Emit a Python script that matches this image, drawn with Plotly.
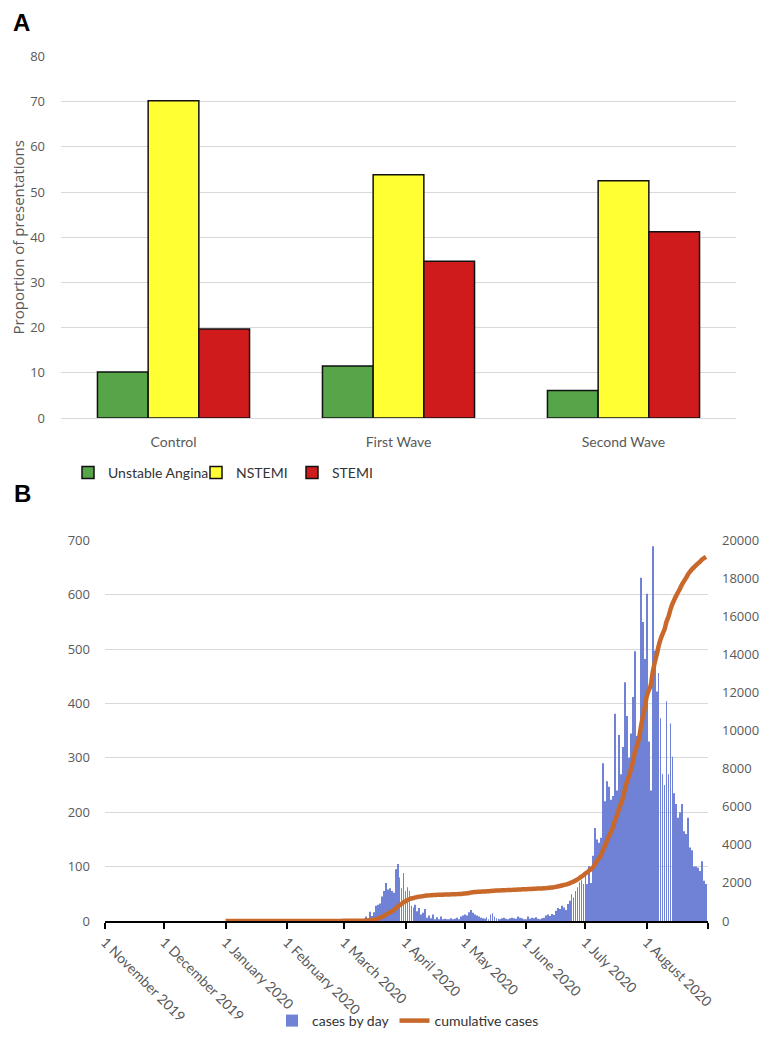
import numpy as np
import pandas as pd
import plotly.graph_objects as go

# ---------------- Panel A data ----------------
categories = ["Control", "First Wave", "Second Wave"]
unstable_angina = [10.2, 11.5, 6.1]
nstemi = [70.2, 53.8, 52.5]
stemi = [19.7, 34.7, 41.2]

# ---------------- Panel B data (daily cases, 2020) ----------------
jan_cases = [0]*24 + [1, 0, 0, 0, 1, 1, 0]
feb_cases = [1] + [0]*27 + [1]
mar_cases = [1, 0, 1, 1, 0, 1, 1, 0, 1, 1,
             3, 8, 5, 17, 9, 16,
             28, 30, 32, 45, 55, 70, 58,
             60, 55, 52, 95, 105, 80, 60, 88]
apr_cases = [55, 62, 55, 28,
             25, 30, 18, 24, 12, 15, 22, 6, 10, 5, 12, 3, 7, 2, 8, 2,
             4, 2, 3, 5, 3, 4, 6, 3, 8, 10]
may_cases = [12, 10, 16, 20, 15, 12, 10, 8, 6, 5,
             4, 7, 3, 12, 14, 8, 5, 4, 3, 5,
             6, 4, 2, 5, 6, 5, 4, 8, 6, 5, 3]
jun_cases = [3, 8, 4, 6, 5, 7, 4, 3, 5, 6,
             10, 12, 9, 13, 11, 19, 24, 22, 28, 25,
             20, 31, 37, 49, 43, 55, 62, 71, 75, 68]
jul_cases = [92, 68, 101, 70, 120, 171, 150, 144, 153, 290,
             220, 257, 247, 223, 230, 381, 240, 342, 270, 320,
             439, 377, 300, 345, 412, 496, 340, 330, 631, 550, 482]
aug_cases = [602, 330, 240, 689, 497, 422, 456, 373, 270, 250,
             404, 270, 363, 302, 235, 215, 190, 200, 215, 165,
             160, 190, 135, 130, 100, 100, 98, 92, 110, 74, 68]

x_tick_vals = ["2019-11-01", "2019-12-01", "2020-01-01", "2020-02-01", "2020-03-01",
               "2020-04-01", "2020-05-01", "2020-06-01", "2020-07-01", "2020-08-01",
               "2020-09-01"]
x_tick_text = ["1 November 2019", "1 December 2019", "1 January 2020", "1 February 2020",
               "1 March 2020", "1 April 2020", "1 May 2020", "1 June 2020", "1 July 2020",
               "1 August 2020", ""]

daily = np.array(jan_cases + feb_cases + mar_cases + apr_cases + may_cases +
                 jun_cases + jul_cases + aug_cases)
dates = pd.date_range("2020-01-01", periods=len(daily), freq="D")
cumulative = np.cumsum(daily)

# page has an 8px body margin: build the figure 16px smaller and offset all positions
OFF = 8
W, H = 770 - 2 * OFF, 1045 - 2 * OFF
YSTRETCH = 1.0065
def px_x(p):
    return (p - OFF) / W
def px_y(p):
    p = 57 + (p - 57) * YSTRETCH
    return 1 - (p - OFF) / H

GRAY = "#595959"
GRID = "#d9d9d9"
CAL = "Lato, Carlito, Calibri, Liberation Sans, sans-serif"
NUM = "Open Sans, DejaVu Sans, sans-serif"

fig = go.Figure()

colors_a = ["#56a548", "#ffff33", "#d01b1d"]
series_a = [("Unstable Angina", unstable_angina), ("NSTEMI", nstemi), ("STEMI", stemi)]
legend_ids = ["legend", "legend2", "legend3"]
for (name, vals), col, lg in zip(series_a, colors_a, legend_ids):
    fig.add_trace(go.Bar(
        x=categories, y=vals, name=name,
        marker=dict(color=col, line=dict(color="#111111", width=1.5)),
        xaxis="x", yaxis="y", legend=lg,
    ))

fig.add_trace(go.Bar(
    x=dates, y=daily, name="cases by day",
    marker=dict(color="#6f82d6", line=dict(width=0)),
    width=0.42 * 86400000,
    xaxis="x2", yaxis="y2", legend="legend4",
))
fig.add_trace(go.Scatter(
    x=dates, y=cumulative, name="cumulative cases", mode="lines",
    line=dict(color="#c8682a", width=4.5, shape="spline", smoothing=0.6),
    xaxis="x2", yaxis="y3", legend="legend4",
))

leg_common = dict(orientation="h", bgcolor="rgba(0,0,0,0)", borderwidth=0,
                  font=dict(family=CAL, size=14, color="#333333"),
                  xanchor="left", yanchor="middle", itemwidth=30)

fig.update_layout(
    width=W, height=H, autosize=False,
    margin=dict(l=0, r=0, t=0, b=0, pad=0),
    paper_bgcolor="white", plot_bgcolor="white",
    barmode="group", bargap=0.324, bargroupgap=0,
    xaxis=dict(domain=[px_x(61), px_x(736)], anchor="y", type="category",
               showgrid=False, showline=False, ticks="", automargin=False,
               ticklabelstandoff=14,
               tickfont=dict(family=CAL, size=14, color=GRAY)),
    yaxis=dict(domain=[px_y(421), px_y(57)], anchor="x", range=[0, 80], dtick=10,
               showgrid=True, gridcolor=GRID, gridwidth=1.2, automargin=False,
               zeroline=True, zerolinecolor=GRID, zerolinewidth=1.2,
               showline=False, ticks="", ticklabelstandoff=15,
               tickfont=dict(family=NUM, size=13, color=GRAY),
               title=dict(text="Proportion of presentations",
                          font=dict(family=NUM, size=15, color=GRAY), standoff=6)),
    xaxis2=dict(domain=[px_x(105), px_x(708)], anchor="y2", type="date",
                range=["2019-11-01", "2020-09-01"], automargin=False,
                tickmode="array", tickvals=x_tick_vals, ticktext=x_tick_text,
                tickangle=45, ticks="outside", ticklen=6, tickwidth=1.5, tickcolor="black",
                showline=True, linecolor="black", linewidth=1.5,
                showgrid=False, zeroline=False,
                tickfont=dict(family=CAL, size=14, color=GRAY)),
    yaxis2=dict(domain=[px_y(927), px_y(544)], anchor="x2", range=[0, 700], dtick=100,
                showgrid=True, gridcolor=GRID, gridwidth=1.2, zeroline=False,
                showline=False, ticks="", automargin=False, ticklabelstandoff=14,
                tickfont=dict(family=NUM, size=13, color=GRAY)),
    yaxis3=dict(domain=[px_y(927), px_y(544)], anchor="x2", overlaying="y2", side="right",
                range=[0, 20000], dtick=2000, tickformat="d", showgrid=False, zeroline=False,
                showline=False, ticks="", automargin=False, ticklabelstandoff=13,
                tickfont=dict(family=NUM, size=13, color=GRAY)),
    legend=dict(x=px_x(68), y=px_y(476), **leg_common),
    legend2=dict(x=px_x(196), y=px_y(476), **leg_common),
    legend3=dict(x=px_x(292), y=px_y(476), **leg_common),
    legend4=dict(x=px_x(272), y=px_y(1028), **leg_common),
    annotations=[
        dict(text="<b>A</b>", x=px_x(12), y=1, xref="paper", yref="paper",
             xanchor="left", yanchor="top", showarrow=False, borderpad=0,
             font=dict(family="Liberation Sans, Arial, sans-serif", size=24, color="black")),
        dict(text="<b>B</b>", x=px_x(12), y=px_y(497), xref="paper", yref="paper",
             xanchor="left", yanchor="middle", showarrow=False,
             font=dict(family="Liberation Sans, Arial, sans-serif", size=24, color="black")),
    ],
    showlegend=True,
)

fig.write_html("out.html")
